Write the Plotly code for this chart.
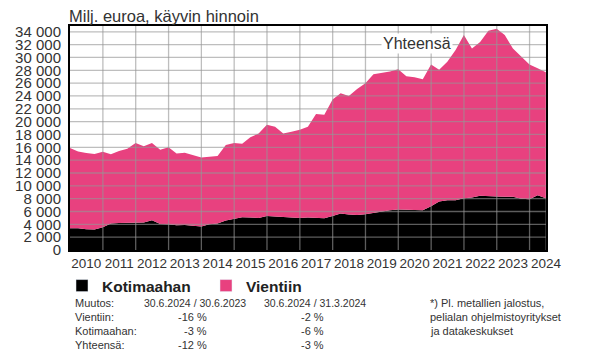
import plotly.graph_objects as go

# ---------------- data ----------------
quarter_ends = ["03-31", "06-30", "09-30", "12-31"]
dates = ["2009-12-31"] + [f"{y}-{q}" for y in range(2010, 2025) for q in quarter_ends][:58]

kotimaahan = [3390, 3390, 3230, 3180, 3540, 4120, 4220, 4270, 4220, 4270,
              4630, 4060, 4010, 3850, 3900, 3800, 3650, 4010, 4120, 4580,
              4840, 5100, 5050, 5000, 5310, 5210, 5100, 5000, 5000, 5050,
              5050, 4950, 5310, 5680, 5520, 5470, 5570, 5780, 5940, 6200,
              6300, 6300, 6300, 6200, 6820, 7550, 7760, 7760, 8070, 8180,
              8440, 8330, 8330, 8280, 8280, 7970, 7920, 8540, 8050]

vientiin = [12500, 11970, 11870, 11770, 11770, 10780, 11200, 11510, 12450, 11880,
            12040, 11560, 11980, 11200, 11250, 10990, 10780, 10520, 10520, 11770,
            11830, 11460, 12500, 13170, 14220, 14010, 13070, 13440, 13720, 14150,
            16150, 16140, 18130, 18750, 18490, 19630, 20420, 21620, 21610, 21610,
            21880, 20780, 20630, 20420, 22090, 20520, 21560, 23390, 25420, 23220,
            23960, 25840, 26150, 25210, 23120, 22130, 20990, 19790, 19660]

years = list(range(2010, 2025))
y_ticks = list(range(0, 34001, 2000))

table_header = ["Muutos:", "30.6.2024 / 30.6.2023", "30.6.2024 / 31.3.2024"]
table_rows = ["Vientiin:", "Kotimaahan:", "Yhteensä:"]
change_yoy = ["-16 %", "-3 %", "-12 %"]
change_qoq = ["-2 %", "-6 %", "-3 %"]
footnote = ["*) Pl. metallien jalostus,", "pelialan ohjelmistoyritykset", "ja datakeskukset"]

# ---------------- style ----------------
PINK = "#E8417F"
BLACK = "#000000"
TEXT = "#333333"
FONT = "Liberation Sans, Arial, sans-serif"
W, H = 605, 356
L, R, T, B = 70, 59, 26, 106
PW, PH = W - L - R, H - T - B


def px(x):  # pixel -> paper x
    return (x - L) / PW


def py(y):  # pixel -> paper y
    return (H - B - y) / PH


fig = go.Figure()
fig.add_trace(go.Scatter(x=dates, y=kotimaahan, name="Kotimaahan", stackgroup="s",
                         mode="lines", line=dict(width=0, color=BLACK),
                         fillcolor=BLACK, showlegend=False, hoverinfo="skip"))
fig.add_trace(go.Scatter(x=dates, y=vientiin, name="Vientiin", stackgroup="s",
                         mode="lines", line=dict(width=0, color=PINK),
                         fillcolor=PINK, showlegend=False, hoverinfo="skip"))
# legend entries (square swatches)
fig.add_trace(go.Bar(x=[None], y=[None], name="Kotimaahan", marker_color=BLACK))
fig.add_trace(go.Bar(x=[None], y=[None], name="Vientiin", marker_color=PINK))

shapes = []
GRID = "rgba(150,150,150,0.62)"
for v in y_ticks[1:]:
    shapes.append(dict(type="line", xref="paper", yref="y", x0=0, x1=1, y0=v, y1=v,
                       line=dict(color=GRID, width=1.3), layer="above"))
for yr in years[1:]:
    shapes.append(dict(type="line", xref="x", yref="paper", x0=f"{yr}-01-01", x1=f"{yr}-01-01",
                       y0=0, y1=1, line=dict(color=GRID, width=1.3), layer="above"))

annotations = [dict(text="Yhteensä", x=px(417), y=py(43.5), xref="paper", yref="paper",
                    xanchor="center", yanchor="middle",
                    showarrow=False, bgcolor="white", borderpad=1,
                    font=dict(family=FONT, size=16, color=TEXT))]

tfont = dict(family=FONT, size=11, color=TEXT)
dfont = dict(family=FONT, size=10.5, color=TEXT)
row_y = [303, 317, 331, 345]
table = [dict(text=table_header[0], x=px(72.5), y=py(row_y[0]), xanchor="left", font=tfont),
         dict(text=table_header[1], x=px(141.5), y=py(row_y[0]), xanchor="left", font=dfont),
         dict(text=table_header[2], x=px(261.5), y=py(row_y[0]), xanchor="left", font=dfont)]
for i, lab in enumerate(table_rows):
    table.append(dict(text=lab, x=px(72.5), y=py(row_y[i + 1]), xanchor="left", font=tfont))
    table.append(dict(text=change_yoy[i], x=px(208.5), y=py(row_y[i + 1]), xanchor="right", font=tfont))
    table.append(dict(text=change_qoq[i], x=px(325.5), y=py(row_y[i + 1]), xanchor="right", font=tfont))
for i, line in enumerate(footnote):
    table.append(dict(text=line, x=px(428), y=py(row_y[i]), xanchor="left", font=tfont))
for a in table:
    a.update(xref="paper", yref="paper", showarrow=False, yanchor="middle")
annotations += table

fig.update_layout(
    width=W, height=H,
    margin=dict(l=L, r=R, t=T, b=B, pad=0, autoexpand=False),
    paper_bgcolor="white", plot_bgcolor="white",
    separators=", ",
    title=dict(text="Milj. euroa, käyvin hinnoin", x=69 / W, xanchor="left",
               y=1 - 16.5 / H, yanchor="middle", xref="container", yref="container",
               font=dict(family=FONT, size=16.5, color=TEXT)),
    xaxis=dict(type="date", range=["2009-12-31", "2024-07-02"],
               tickmode="array", tickvals=[f"{y}-07-01" for y in years],
               ticktext=[str(y) for y in years], showgrid=False, ticks="",
               ticklabelstandoff=0, automargin=False,
               tickfont=dict(family=FONT, size=13.5, color=TEXT),
               showline=True, linecolor="black", linewidth=2, mirror=True,
               zeroline=False, fixedrange=True),
    yaxis=dict(range=[0, 34900], tickmode="array", tickvals=y_ticks,
               tickformat=",d", showgrid=False, ticks="", ticklabelstandoff=4,
               automargin=False,
               tickfont=dict(family=FONT, size=15, color=TEXT),
               showline=True, linecolor="black", linewidth=2, mirror=True,
               zeroline=False, fixedrange=True),
    showlegend=True,
    legend=dict(orientation="h", xref="paper", yref="paper", traceorder="normal",
                x=px(62), xanchor="left", y=py(286), yanchor="middle",
                entrywidth=99, font=dict(family=FONT, size=15.5, color="#222", weight="bold"),
                bgcolor="rgba(0,0,0,0)"),
    shapes=shapes,
    annotations=annotations,
)

fig.write_html("out.html", config={"displayModeBar": False, "staticPlot": True},
               post_script="document.body.style.margin='0px';")
